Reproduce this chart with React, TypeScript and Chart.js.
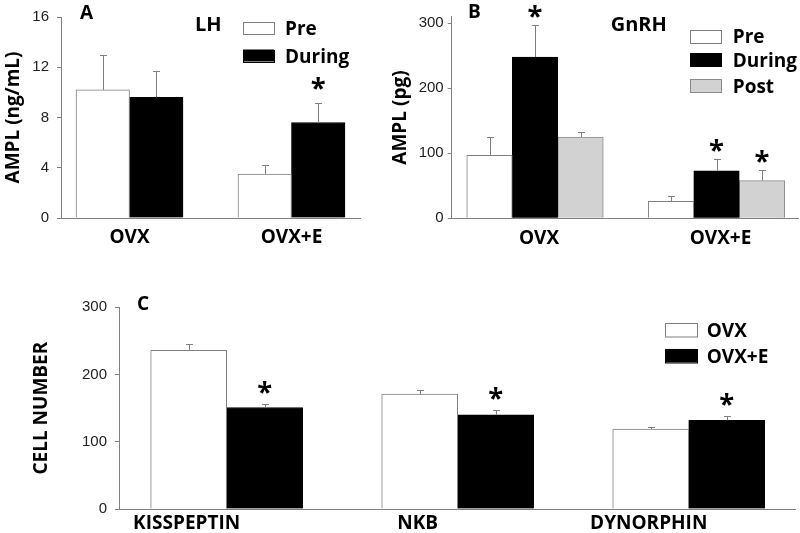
import React, { useEffect, useRef } from 'react';
import { Chart, registerables } from 'chart.js';

Chart.register(...registerables);

const BOLD = '"Open Sans", Lato, sans-serif';
const SANS = '"Liberation Sans", Arial, sans-serif';
const AXIS = '#808080';

// ---------- Panel A : LH ----------
const lhGroups = ['OVX', 'OVX+E'];
const lhTicks = [0, 4, 8, 12, 16];
const lhPre = [10.2, 3.5];
const lhPreSem = [2.8, 0.75];
const lhPreSig = [false, false];
const lhDuring = [9.6, 7.6];
const lhDuringSem = [2.1, 1.55];
const lhDuringSig = [false, true];

// ---------- Panel B : GnRH ----------
const gnrhGroups = ['OVX', 'OVX+E'];
const gnrhTicks = [0, 100, 200, 300];
const gnrhPre = [97, 26];
const gnrhPreSem = [28, 9];
const gnrhPreSig = [false, false];
const gnrhDuring = [248, 73];
const gnrhDuringSem = [50, 19];
const gnrhDuringSig = [true, true];
const gnrhPost = [125, 58];
const gnrhPostSem = [8, 17];
const gnrhPostSig = [false, true];

// ---------- Panel C : cell number ----------
const cellGroups = ['KISSPEPTIN', 'NKB', 'DYNORPHIN'];
const cellTicks = [0, 100, 200, 300];
const cellOvx = [236, 171, 119];
const cellOvxSem = [10, 6, 3];
const cellOvxSig = [false, false, false];
const cellOvxE = [151, 140, 132];
const cellOvxESem = [5.5, 7.5, 7];
const cellOvxESig = [true, true, true];

type Series = { label: string; values: number[]; sem: number[]; sig: boolean[]; fill: string; border: string };
type TextItem = { text: string; x: number; cy: number; size: number };
type PanelCfg = {
  box: { x: number; y: number; w: number; h: number };
  area: { l: number; t: number; r: number; b: number };
  groups: string[];
  series: Series[];
  yMax: number;
  yTicks: number[];
  yTitle: string;
  titlePad: number;
  yPad: number;
  xPad: number;
  xMin: number;
  xMax: number;
  labelOffset: number;
  barW: number;
  starGap: number;
  legend: { boxX: number; boxW: number; boxH: number; rows: number[]; textX: number; size: number };
  texts: TextItem[];
};

const WHITE = { fill: '#ffffff', border: '#7f7f7f' };
const BLACK = { fill: '#000000', border: '#000000' };
const GREY = { fill: '#d2d2d2', border: '#8a8a8a' };

const panels: PanelCfg[] = [
  {
    box: { x: 0, y: 0, w: 380, h: 265 },
    area: { l: 61, t: 16.7, r: 360, b: 218 },
    groups: lhGroups,
    series: [
      { label: 'Pre', values: lhPre, sem: lhPreSem, sig: lhPreSig, ...WHITE },
      { label: 'During', values: lhDuring, sem: lhDuringSem, sig: lhDuringSig, ...BLACK },
    ],
    yMax: 16,
    yTicks: lhTicks,
    yTitle: 'AMPL (ng/mL)',
    titlePad: 1.7,
    yPad: 8,
    xPad: 8,
    xMin: -0.423,
    xMax: 1.423,
    labelOffset: 0,
    barW: 53.5,
    starGap: 20,
    legend: { boxX: 243, boxW: 31, boxH: 12, rows: [28, 55.5], textX: 285, size: 19 },
    texts: [
      { text: 'A', x: 80, cy: 11.5, size: 19 },
      { text: 'LH', x: 195, cy: 24, size: 20 },
    ],
  },
  {
    box: { x: 380, y: 0, w: 420, h: 265 },
    area: { l: 451.7, t: 16.8, r: 798, b: 218.3 },
    groups: gnrhGroups,
    series: [
      { label: 'Pre', values: gnrhPre, sem: gnrhPreSem, sig: gnrhPreSig, ...WHITE },
      { label: 'During', values: gnrhDuring, sem: gnrhDuringSem, sig: gnrhDuringSig, ...BLACK },
      { label: 'Post', values: gnrhPost, sem: gnrhPostSem, sig: gnrhPostSig, ...GREY },
    ],
    yMax: 310,
    yTicks: gnrhTicks,
    yTitle: 'AMPL (pg)',
    titlePad: 9.2,
    yPad: 4,
    xPad: 8.4,
    xMin: -0.459,
    xMax: 1.449,
    labelOffset: 4,
    barW: 45.5,
    starGap: 14,
    legend: { boxX: 690, boxW: 31, boxH: 13, rows: [36, 59.7, 85.5], textX: 732.7, size: 19 },
    texts: [
      { text: 'B', x: 468, cy: 11, size: 19 },
      { text: 'GnRH', x: 610.7, cy: 24.3, size: 20 },
    ],
  },
  {
    box: { x: 0, y: 285, w: 800, h: 248 },
    area: { l: 119, t: 307.3, r: 795, b: 509 },
    groups: cellGroups,
    series: [
      { label: 'OVX', values: cellOvx, sem: cellOvxSem, sig: cellOvxSig, ...WHITE },
      { label: 'OVX+E', values: cellOvxE, sem: cellOvxESem, sig: cellOvxESig, ...BLACK },
    ],
    yMax: 300,
    yTicks: cellTicks,
    yTitle: 'CELL NUMBER',
    titlePad: 29.7,
    yPad: 8,
    xPad: 3.5,
    xMin: -0.466,
    xMax: 2.46,
    labelOffset: -40,
    barW: 76,
    starGap: 17,
    legend: { boxX: 665, boxW: 32, boxH: 13.5, rows: [330, 355.7], textX: 706.7, size: 19 },
    texts: [{ text: 'C', x: 137, cy: 302.5, size: 19 }],
  },
];

function capText(ctx: CanvasRenderingContext2D, text: string, x: number, cy: number, size: number) {
  ctx.font = `bold ${size}px ${BOLD}`;
  const m = ctx.measureText('H');
  const cap = m.actualBoundingBoxAscent;
  ctx.textAlign = 'left';
  ctx.textBaseline = 'alphabetic';
  ctx.fillStyle = '#000';
  ctx.fillText(text, x, cy + cap / 2);
}

const figurePlugin = {
  id: 'figure',
  afterDatasetsDraw(chart: any, _args: any, opts: any) {
    const ctx: CanvasRenderingContext2D = chart.ctx;
    const yScale = chart.scales.y;
    const ox = opts.ox;
    const oy = opts.oy;
    ctx.save();
    chart.data.datasets.forEach((ds: any, di: number) => {
      const meta = chart.getDatasetMeta(di);
      meta.data.forEach((bar: any, i: number) => {
        const v = ds.data[i].y;
        const top = Math.round(yScale.getPixelForValue(v + ds.sem[i])) + 0.5;
        const x = Math.round(bar.x) + 0.5;
        ctx.strokeStyle = '#7f7f7f';
        ctx.lineWidth = 1;
        ctx.beginPath();
        ctx.moveTo(x, bar.y);
        ctx.lineTo(x, top);
        ctx.moveTo(x - 3.5, top);
        ctx.lineTo(x + 3.5, top);
        ctx.stroke();
        if (ds.sig[i]) {
          // scale the asterisk so its glyph is ~13px tall
          ctx.font = `bold 40px ${BOLD}`;
          const m0 = ctx.measureText('*');
          const h0 = m0.actualBoundingBoxAscent + m0.actualBoundingBoxDescent || 16;
          const size = (40 * 13) / h0;
          ctx.font = `bold ${size}px ${BOLD}`;
          const m = ctx.measureText('*');
          const cy = top - opts.starGap;
          ctx.textAlign = 'center';
          ctx.textBaseline = 'alphabetic';
          ctx.fillStyle = '#000';
          ctx.fillText('*', bar.x, cy + (m.actualBoundingBoxAscent - m.actualBoundingBoxDescent) / 2);
        }
      });
    });
    // legend
    const lg = opts.legend;
    chart.data.datasets.forEach((ds: any, di: number) => {
      const cy = lg.rows[di] - oy;
      const bx = lg.boxX - ox;
      ctx.fillStyle = ds.backgroundColor;
      ctx.fillRect(bx, cy - lg.boxH / 2, lg.boxW, lg.boxH);
      ctx.strokeStyle = ds.borderColor;
      ctx.lineWidth = 1;
      ctx.strokeRect(Math.round(bx) + 0.5, Math.round(cy - lg.boxH / 2) + 0.5, lg.boxW, lg.boxH);
      capText(ctx, ds.label, lg.textX - ox, cy, lg.size);
    });
    (opts.texts as TextItem[]).forEach((t) => capText(ctx, t.text, t.x - ox, t.cy - oy, t.size));
    ctx.restore();
  },
};

function buildConfig(p: PanelCfg): any {
  const yW = p.area.l - p.box.x;
  const padTop = p.area.t - p.box.y;
  const padRight = p.box.x + p.box.w - p.area.r;
  const xH = p.box.y + p.box.h - p.area.b;
  return {
    type: 'bar',
    data: {
      datasets: p.series.map((s) => ({
        label: s.label,
        data: s.values.map((v, i) => ({ x: i, y: v })),
        sem: s.sem,
        sig: s.sig,
        backgroundColor: s.fill,
        borderColor: s.border,
        borderWidth: 1,
        barThickness: p.barW,
      })),
    },
    options: {
      responsive: false,
      animation: false,
      devicePixelRatio: 1,
      layout: { padding: { left: 0, top: padTop, right: padRight, bottom: 0 } },
      plugins: {
        legend: { display: false },
        tooltip: { enabled: false },
        figure: {
          ox: p.box.x,
          oy: p.box.y,
          starGap: p.starGap,
          legend: p.legend,
          texts: p.texts,
        },
      },
      scales: {
        x: {
          type: 'linear',
          min: p.xMin,
          max: p.xMax,
          bounds: 'data',
          offset: false,
          grid: { display: false, drawTicks: false },
          border: { display: true, color: AXIS, width: 1 },
          afterBuildTicks: (s: any) => {
            s.ticks = p.groups.map((_, i) => ({ value: i }));
          },
          ticks: {
            autoSkip: false,
            maxRotation: 0,
            minRotation: 0,
            padding: p.xPad,
            labelOffset: p.labelOffset,
            color: '#000',
            font: { family: BOLD, size: 19, weight: 'bold', lineHeight: 1.2 },
            callback: (v: any) => p.groups[Math.round(v)] ?? '',
          },
          afterFit: (s: any) => {
            s.height = xH;
          },
        },
        y: {
          type: 'linear',
          min: 0,
          max: p.yMax,
          bounds: 'data',
          afterBuildTicks: (s: any) => {
            s.ticks = p.yTicks.map((v) => ({ value: v }));
          },
          grid: { drawOnChartArea: false, drawTicks: true, tickLength: 4, color: AXIS },
          border: { display: true, color: AXIS, width: 1 },
          ticks: {
            padding: p.yPad,
            color: '#222',
            font: { family: SANS, size: 15 },
          },
          title: {
            display: true,
            text: p.yTitle,
            color: '#000',
            font: { family: BOLD, size: 19, weight: 'bold', lineHeight: 1.2 },
            padding: { top: p.titlePad, bottom: 0 },
          },
          afterFit: (s: any) => {
            s.width = yW;
          },
        },
      },
    },
    plugins: [figurePlugin],
  };
}

function Panel({ cfg }: { cfg: PanelCfg }) {
  const ref = useRef<HTMLCanvasElement>(null);
  useEffect(() => {
    if (!ref.current) return;
    const chart = new Chart(ref.current, buildConfig(cfg));
    return () => chart.destroy();
  }, [cfg]);
  return (
    <canvas
      ref={ref}
      width={cfg.box.w}
      height={cfg.box.h}
      style={{ position: 'absolute', left: cfg.box.x, top: cfg.box.y, width: cfg.box.w, height: cfg.box.h }}
    />
  );
}

export default function App() {
  return (
    <div
      style={{
        position: 'absolute',
        left: 0,
        top: 0,
        width: 800,
        height: 533,
        background: '#ffffff',
        overflow: 'hidden',
      }}
    >
      {panels.map((p, i) => (
        <Panel key={i} cfg={p} />
      ))}
    </div>
  );
}
